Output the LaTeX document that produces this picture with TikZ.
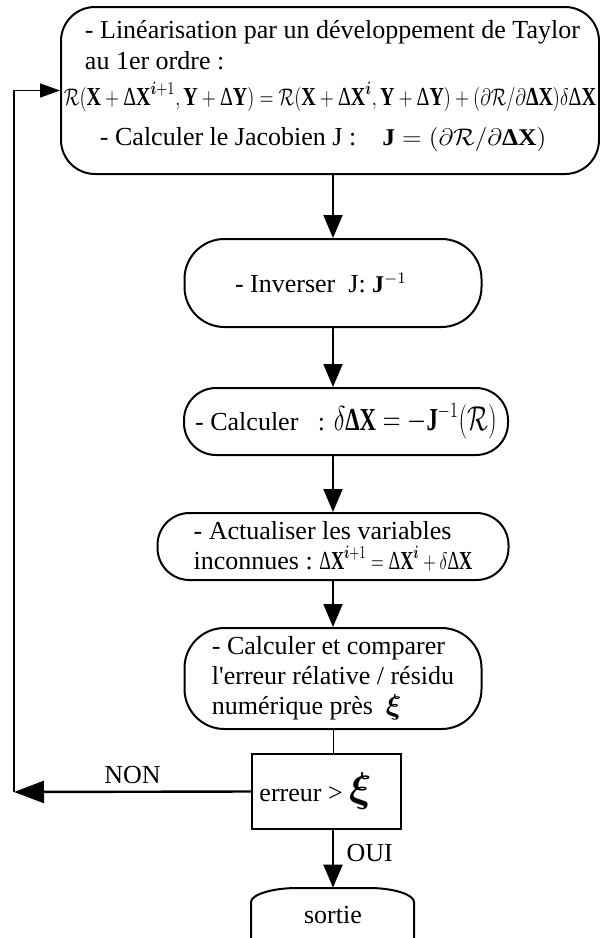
\documentclass[tikz,border=0pt]{standalone}
\usepackage{amsmath}
\usepackage[no-math]{fontspec}
\setmainfont{Liberation Serif}
\usetikzlibrary{arrows.meta}
\newcommand{\bX}{\textbf{X}}
\newcommand{\bY}{\textbf{Y}}
\newcommand{\bJ}{\textbf{J}}
\newcommand{\bD}{\textbf{Δ}}
\newcommand{\tD}{\textup{Δ}}

\begin{document}
\begin{tikzpicture}[x=0.5pt,y=-0.5pt,
  box/.style={draw,line width=1pt,rounded corners=16pt,inner sep=0pt,align=left,
    font=\fontsize{13}{15}\selectfont},
  flow/.style={line width=1pt,-{Triangle[length=11.5pt,width=9.5pt]}},
  lab/.style={font=\fontsize{13}{15}\selectfont}]
\useasboundingbox (0,0) rectangle (600,938);
\node [box,rounded corners=17pt,minimum width=269pt,minimum height=83.5pt] (n1) at (330,90.5) {%
\hspace*{10.5pt}- Linéarisation par un développement de Taylor\\[0.5pt]
\hspace*{10.5pt}au 1er ordre :\\[3pt]
\resizebox{266pt}{\height}{$\mathcal{R}(\bX+\tD\bX^{\boldsymbol{i}+1},\bY+\tD\bY)=\mathcal{R}(\bX+\tD\bX^{\boldsymbol{i}},\bY+\tD\bY)+(\partial\mathcal{R}/\partial\bD\bX)\delta\tD\bX$}\\[5pt]
\hspace*{18pt}- Calculer le Jacobien J :\quad {\large\resizebox{82pt}{\height}{$\bJ=(\partial\mathcal{R}/\partial\bD\bX)$}}\rule[-8pt]{0pt}{8pt}};
\node [box,rounded corners=20pt,align=center,minimum width=148.5pt,minimum height=44pt] (n2) at (333,283) {- Inverser\ \ J: {\large$\bJ^{-1}$}\hspace*{12pt}};
\node [box,align=center,minimum width=162pt,minimum height=33.5pt] (n3) at (346,421.5) {- Calculer\ \ \ : {\fontsize{16}{18}\selectfont\resizebox{81.5pt}{\height}{$\delta\bD\bX=-\bJ^{-1}(\mathcal{R})$}}};
\node [box,minimum width=175.5pt,minimum height=33.5pt] (n4) at (333,546.5) {- Actualiser les variables\\
inconnues :\ \resizebox{76.5pt}{\height}{$\tD\bX^{\boldsymbol{i}+1}=\tD\bX^{\boldsymbol{i}}+\delta\tD\bX$}};
\node [box,rounded corners=20pt,minimum width=148.5pt,minimum height=50.5pt] (n5) at (333,678.5) {- Calculer et comparer\\
l\textquotesingle erreur rélative / résidu\\
numérique près\ \ {\Large$\boldsymbol{\xi}$}};
\node [box,rounded corners=0pt,align=center,minimum width=74.5pt,minimum height=37.5pt] (n6) at (326.5,791.5) {erreur > {\fontsize{20}{20}\selectfont$\boldsymbol{\xi}$}\hspace*{11pt}};
\node [lab,minimum width=81pt,minimum height=30pt] (n7) at (333,918) {\raisebox{3pt}{sortie}};
\draw [line width=1pt] (251,948) -- (251,902) .. controls (251,894.8) and (271.6,888) .. (297,888)
  -- (369,888) .. controls (394.4,888) and (414,894.8) .. (414,902) -- (414,948);
\coordinate (c1) at (14,792);
\draw [flow] (n1.south -| n2.north) -- (n2.north);
\draw [flow] (n2.south) -- (n2.south |- n3.north);
\draw [flow] (n3.south -| n4.north) -- (n4.north);
\draw [flow] (n4.south) -- (n5.north);
\draw [line width=0.5pt] (n5.south) -- (n5.south |- n6.north);
\draw [flow] (n6.south -| n7.north) -- node[lab,right,pos=0.4,xshift=3pt]{OUI} (n7.north);
\draw [line width=1.2pt,-{Triangle[length=15pt,width=11pt]}] (n6.west) -- node[lab,above]{NON} (c1);
\draw [line width=0.75pt,-{Triangle[length=10pt,width=7pt]}] (c1) |- (n1.west);
\end{tikzpicture}
\end{document}
